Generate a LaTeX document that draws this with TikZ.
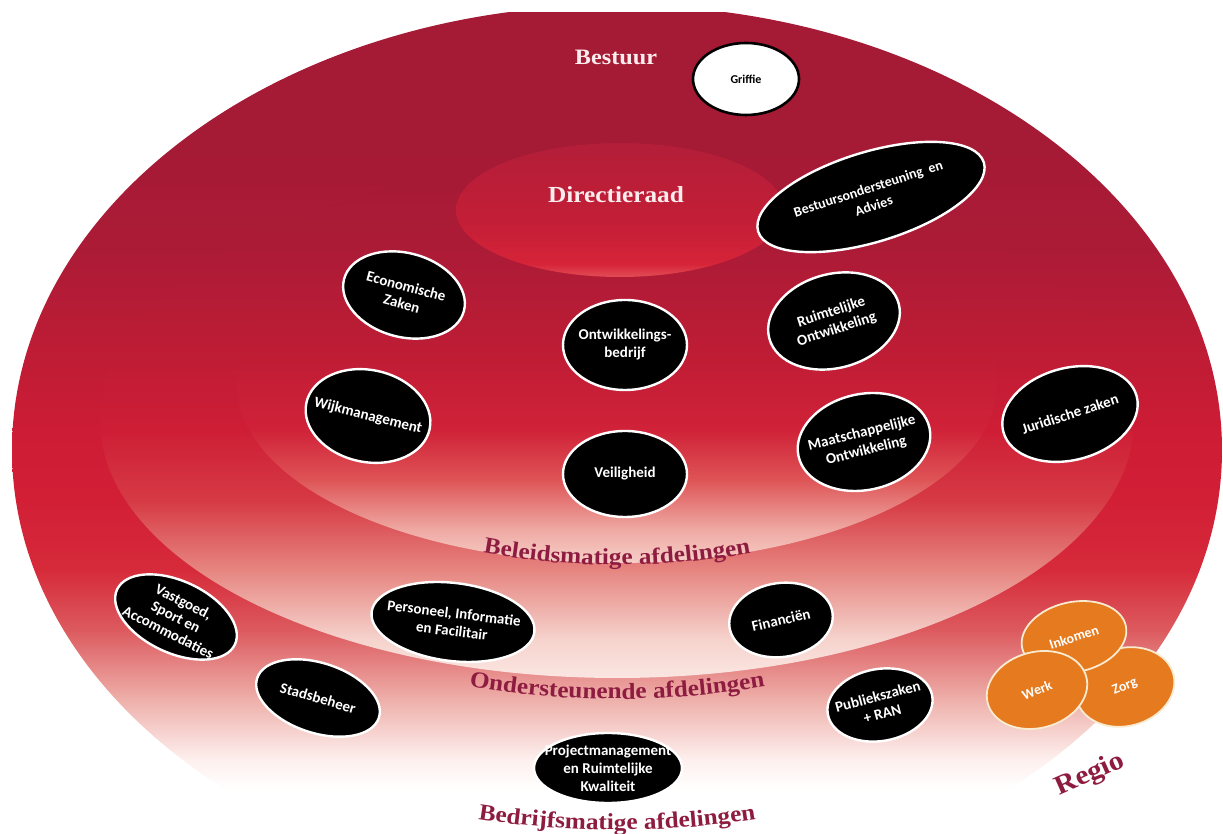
\documentclass[tikz,border=0pt]{standalone}
\usepackage{fontspec}
\usetikzlibrary{shapes.geometric,decorations.text,calc}
\newfontfamily\nodefont{Carlito}
\newfontfamily\labelfont[FakeStretch=1.1]{Liberation Serif}

% shared crimson tones of the upper half (same at a given height in every ring)
\definecolor{uA}{HTML}{A51A35}
\definecolor{uB}{HTML}{AC1B36}
\definecolor{uC}{HTML}{BE1C35}
\definecolor{uD}{HTML}{CD1C35}
\definecolor{uE}{HTML}{D21F36}

% outer ring, lower half
\definecolor{oE}{HTML}{D62A3A}
\definecolor{oF}{HTML}{DC5A5E}
\definecolor{oG}{HTML}{EEAFAA}
\definecolor{oH}{HTML}{FDF0EE}

% second ring, lower half
\definecolor{sD}{HTML}{CE1E36}
\definecolor{sC}{HTML}{D63A44}
\definecolor{sB}{HTML}{E68580}
\definecolor{sE}{HTML}{F6D3CD}
\definecolor{sF}{HTML}{FBE6E2}

% third ring, lower half
\definecolor{tC}{HTML}{D02238}
\definecolor{tD}{HTML}{DE5456}
\definecolor{tE}{HTML}{EFAAA4}
\definecolor{tF}{HTML}{F6CFC8}

% Directieraad
\definecolor{dA}{HTML}{B31E38}
\definecolor{dB}{HTML}{C41E37}
\definecolor{dC}{HTML}{D62438}
\definecolor{dD}{HTML}{E24C55}

\definecolor{maroon}{HTML}{8E1C40}
\definecolor{paletext}{HTML}{FBEDED}
\definecolor{orangefill}{HTML}{E57A1E}
\definecolor{cream}{HTML}{F8EBD0}

% vertical shadings: 25bp = bottom of the path, 75bp = top of the path
\pgfdeclareverticalshading{outershade}{100bp}{%
  color(0bp)=(white); color(30.9bp)=(white); color(32.6bp)=(oH);
  color(36bp)=(oG); color(39.9bp)=(oF); color(43.3bp)=(oE);
  color(47.2bp)=(uE); color(51.1bp)=(uD); color(55.6bp)=(uC);
  color(61.2bp)=(uB); color(66.9bp)=(uA); color(100bp)=(uA)}
\pgfdeclareverticalshading{secondshade}{100bp}{%
  color(0bp)=(sF); color(25bp)=(sF); color(28.7bp)=(sE);
  color(35.5bp)=(sB); color(42.2bp)=(sC); color(49bp)=(sD);
  color(56.8bp)=(uC); color(66.5bp)=(uB); color(75bp)=(uA); color(100bp)=(uA)}
\pgfdeclareverticalshading{thirdshade}{100bp}{%
  color(0bp)=(tF); color(25bp)=(tF); color(29.6bp)=(tE);
  color(36.7bp)=(tD); color(43.7bp)=(tC); color(54.9bp)=(uC);
  color(69bp)=(uB); color(75bp)=(uB); color(100bp)=(uB)}
\pgfdeclareverticalshading{dirshade}{100bp}{%
  color(0bp)=(dD); color(25bp)=(dD); color(30bp)=(dC);
  color(45bp)=(dB); color(75bp)=(dA); color(100bp)=(dA)}

\tikzset{
  dept/.style={ellipse, draw=white, line width=2.4pt, fill=black, inner sep=0pt},
  depttext/.style={text=white, font=\nodefont\bfseries\fontsize{15}{18}\selectfont,
    align=center, inner sep=0pt},
  regioshape/.style={ellipse, draw=cream, line width=1.8pt, fill=orangefill, inner sep=0pt},
  regiotext/.style={text=white, font=\nodefont\bfseries\fontsize{14}{16}\selectfont, inner sep=0pt},
  paletitle/.style={text=paletext, font=\labelfont\bfseries, inner sep=0pt},
  ringlabel/.style={decorate, decoration={text along path, text align=center,
    text color=maroon}}
}

\begin{document}
\begin{tikzpicture}[x=1pt,y=1pt]
\useasboundingbox (0,0) rectangle (1223,834);
\fill[white] (0,0) rectangle (1223,834);

% nested rings
\begin{scope}
  \clip (0,0) rectangle (1223,821);
  \shade[shading=outershade] (617,384) ellipse [x radius=605pt, y radius=445pt];
\end{scope}
\shade[shading=secondshade] (617,414) ellipse [x radius=517pt, y radius=258pt];
\shade[shading=thirdshade] (617,449) ellipse [x radius=380pt, y radius=178pt];
\shade[shading=dirshade] (620,624) ellipse [x radius=164pt, y radius=67pt];

% titles
\node[paletitle, font=\labelfont\bfseries\fontsize{22}{22}\selectfont] (bestuur) at (616,777) {Bestuur};
\node[paletitle, font=\labelfont\bfseries\fontsize{23}{23}\selectfont] (directie) at (616,639) {Directieraad};

% curved ring labels
\path[ringlabel, decoration={text={|\labelfont\bfseries\fontsize{23}{23}\selectfont|Beleidsmatige afdelingen}}]
  ($(617,1019)+(255:750)$) arc[start angle=255, end angle=285, radius=750];
\path[ringlabel, decoration={text={|\labelfont\bfseries\fontsize{23}{23}\selectfont|Ondersteunende afdelingen}}]
  ($(617,1035)+(258:900)$) arc[start angle=258, end angle=282, radius=900];
\path[ringlabel, decoration={text={|\labelfont\bfseries\fontsize{23}{23}\selectfont|Bedrijfsmatige afdelingen}}]
  ($(617,904)+(258:900)$) arc[start angle=258, end angle=282, radius=900];

% Griffie
\node[ellipse, draw=black, line width=2.6pt, fill=white, inner sep=0pt,
      minimum width=106pt, minimum height=72pt] (griffie) at (746,755) {};
\node[text=black, font=\nodefont\bfseries\fontsize{12}{14}\selectfont, inner sep=0pt] (griffie-t) at (griffie) {Griffie};

% departments
\node[dept, minimum width=236pt, minimum height=90pt, rotate=17] (bestond) at (871,637) {};
\node[depttext, font=\nodefont\bfseries\fontsize{14}{18}\selectfont, rotate=18] (bestond-t) at (bestond) {Bestuursondersteuning\ \ en\\Advies};

\node[dept, minimum width=124pt, minimum height=84pt, rotate=-15] (econ) at (404,539) {};
\node[depttext, rotate=-15] (econ-t) at (econ) {Economische\\Zaken};

\node[dept, minimum width=124pt, minimum height=90pt] (ontw) at (625,489) {};
\node[depttext] (ontw-t) at (ontw) {Ontwikkelings-\\bedrijf};

\node[dept, minimum width=134pt, minimum height=94pt, rotate=15] (ruimt) at (834,513) {};
\node[depttext, rotate=18] (ruimt-t) at (ruimt) {Ruimtelijke\\Ontwikkeling};

\node[dept, minimum width=126pt, minimum height=92pt, rotate=-12] (wijk) at (368,418) {};
\node[depttext, rotate=-14] (wijk-t) at (wijk) {Wijkmanagement};

\node[dept, minimum width=124pt, minimum height=86pt] (veil) at (625,360) {};
\node[depttext] (veil-t) at (veil) {Veiligheid};

\node[dept, minimum width=134pt, minimum height=96pt, rotate=12] (maat) at (864,392) {};
\node[depttext, rotate=14] (maat-t) at (maat) {Maatschappelijke\\Ontwikkeling};

\node[dept, minimum width=138pt, minimum height=92pt, rotate=15] (jur) at (1070,420) {};
\node[depttext, rotate=18] (jur-t) at (jur) {Juridische zaken};

\node[dept, minimum width=130pt, minimum height=72pt, rotate=-25] (vast) at (176,217) {};
\node[depttext, font=\nodefont\bfseries\fontsize{15}{17}\selectfont, rotate=-27] (vast-t) at (vast) {Vastgoed,\\Sport en\\Accommodaties};

\node[dept, minimum width=164pt, minimum height=78pt, rotate=-7] (pers) at (453,212) {};
\node[depttext, rotate=-7] (pers-t) at (pers) {Personeel, Informatie\\en Facilitair};

\node[dept, minimum width=104pt, minimum height=74pt, rotate=8] (fin) at (781,214) {};
\node[depttext, rotate=13] (fin-t) at (fin) {Financiën};

\node[dept, minimum width=128pt, minimum height=70pt, rotate=-18] (stads) at (318,136) {};
\node[depttext, rotate=-16] (stads-t) at (stads) {Stadsbeheer};

\node[dept, minimum width=106pt, minimum height=72pt, rotate=10] (publ) at (880,129) {};
\node[depttext, rotate=15] (publ-t) at (publ) {Publiekszaken\\+ RAN};

\node[dept, minimum width=148pt, minimum height=70pt] (projm) at (608,66) {};
\node[depttext, font=\nodefont\bfseries\fontsize{15}{18}\selectfont] (projm-t) at (projm) {Projectmanagement\\en Ruimtelijke\\Kwaliteit};

% Regio cluster
\node[regioshape, minimum width=100pt, minimum height=78pt, rotate=15] (zorg) at (1125,147) {};
\node[regioshape, minimum width=106pt, minimum height=70pt, rotate=12] (inkomen) at (1074,197) {};
\node[regioshape, minimum width=102pt, minimum height=76pt, rotate=15] (werk) at (1037,144) {};
\node[regiotext, rotate=18] (inkomen-t) at (inkomen) {Inkomen};
\node[regiotext, rotate=22] (werk-t) at (werk) {Werk};
\node[regiotext, rotate=22] (zorg-t) at (zorg) {Zorg};

\node[text=maroon, font=\labelfont\bfseries\fontsize{27}{27}\selectfont, rotate=24, inner sep=0pt] (regio) at (1090,59) {Regio};
\end{tikzpicture}
\end{document}
